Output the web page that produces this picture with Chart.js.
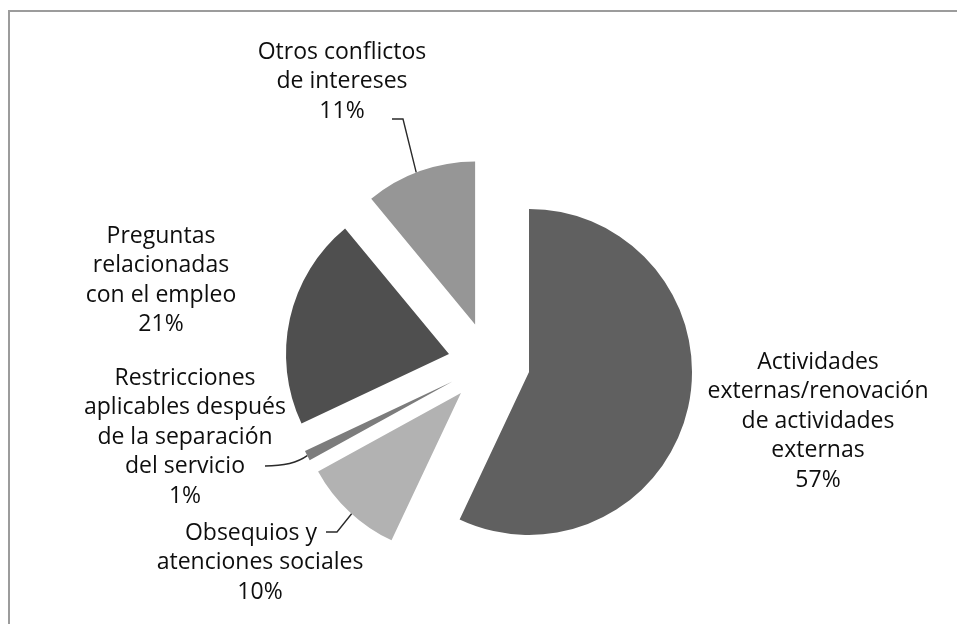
<!DOCTYPE html>
<html lang="es">
<head>
    <meta charset="UTF-8">
    <title>Consultas por categoría</title>
    <style>
        body {
            margin: 0;
            background-color: #fff;
        }

        #chart-wrap {
            position: relative;
            width: 957px;
            height: 624px;
            overflow: hidden;
        }

        /* marco gris: solo lados superior e izquierdo quedan a la vista */
        #marco {
            position: absolute;
            left: 8px;
            top: 10px;
            width: 960px;
            height: 630px;
            border-left: 2px solid #9c9c9c;
            border-top: 2px solid #9c9c9c;
        }

        canvas {
            position: absolute;
            left: 0;
            top: 0;
        }
    </style>
</head>
<body>
    <div id="chart-wrap">
        <div id="marco"></div>
        <canvas id="grafico" width="957" height="624"></canvas>
    </div>

    <script src="https://cdn.jsdelivr.net/npm/chart.js"></script>

    <script>
        // Datos: porcentaje de consultas por categoría
        const categorias = [
            'Actividades externas/renovación de actividades externas',
            'Obsequios y atenciones sociales',
            'Restricciones aplicables después de la separación del servicio',
            'Preguntas relacionadas con el empleo',
            'Otros conflictos de intereses'
        ];
        const porcentajes = [57, 10, 1, 21, 11];
        const lineasEtiqueta = [
            ['Actividades', 'externas/renovación', 'de actividades', 'externas'],
            ['Obsequios y', 'atenciones sociales'],
            ['Restricciones', 'aplicables después', 'de la separación', 'del servicio'],
            ['Preguntas', 'relacionadas', 'con el empleo'],
            ['Otros conflictos', 'de intereses']
        ];

        // Estilo
        const colores = ['#606060', '#b2b2b2', '#7c7c7c', '#4f4f4f', '#969696'];
        const DESPLAZAMIENTO = 41;   // separación de cada porción respecto al centro
        const ALTO_LINEA = 29.5;
        const FUENTE = '23px "Open Sans", sans-serif';

        // posición (centro x, y de la primera línea) de cada etiqueta;
        // dx0 corre solo la primera línea para dejar sitio a la guía
        const posEtiqueta = [
            { x: 818, y: 362 },
            { x: 260, y: 533, dx0: -9 },
            { x: 185, y: 378 },
            { x: 161, y: 236 },
            { x: 342, y: 52 }
        ];

        // líneas guía: puntos junto al texto y fracción del arco donde terminan
        const guias = [
            null,
            { puntos: [[326, 532], [337, 532]], frac: 0.47 },
            { puntos: [[265, 466]], ctrl: [293, 466], frac: 0.5 },
            null,
            { puntos: [[392, 119], [403, 119]], frac: 0.465 }
        ];

        function centroDesplazado(arc) {
            const mid = (arc.startAngle + arc.endAngle) / 2;
            return {
                x: arc.x + Math.cos(mid) * DESPLAZAMIENTO,
                y: arc.y + Math.sin(mid) * DESPLAZAMIENTO
            };
        }

        function puntoBorde(arc, frac) {
            const c = centroDesplazado(arc);
            const a = arc.startAngle + (arc.endAngle - arc.startAngle) * frac;
            return {
                x: c.x + Math.cos(a) * arc.outerRadius,
                y: c.y + Math.sin(a) * arc.outerRadius
            };
        }

        // dibuja cada porción separada del centro la misma distancia
        const separarPorciones = {
            id: 'separarPorciones',
            beforeDatasetDraw(chart, args) {
                const ctx = chart.ctx;
                args.meta.data.forEach(arc => {
                    const mid = (arc.startAngle + arc.endAngle) / 2;
                    ctx.save();
                    ctx.translate(Math.cos(mid) * DESPLAZAMIENTO, Math.sin(mid) * DESPLAZAMIENTO);
                    arc.draw(ctx);
                    ctx.restore();
                });
                return false;
            }
        };

        const etiquetas = {
            id: 'etiquetas',
            afterDraw(chart) {
                const ctx = chart.ctx;
                const arcs = chart.getDatasetMeta(0).data;
                ctx.save();

                // líneas guía
                ctx.strokeStyle = '#2a2a2a';
                ctx.lineWidth = 1.4;
                guias.forEach((g, i) => {
                    if (!g) return;
                    const fin = puntoBorde(arcs[i], g.frac);
                    ctx.beginPath();
                    ctx.moveTo(g.puntos[0][0], g.puntos[0][1]);
                    for (let k = 1; k < g.puntos.length; k++) {
                        ctx.lineTo(g.puntos[k][0], g.puntos[k][1]);
                    }
                    if (g.ctrl) {
                        ctx.quadraticCurveTo(g.ctrl[0], g.ctrl[1], fin.x, fin.y);
                    } else {
                        ctx.lineTo(fin.x, fin.y);
                    }
                    ctx.stroke();
                });

                // texto
                ctx.fillStyle = '#0e0e0e';
                ctx.font = FUENTE;
                ctx.textAlign = 'center';
                ctx.textBaseline = 'middle';
                lineasEtiqueta.forEach((lineas, i) => {
                    const p = posEtiqueta[i];
                    const todas = lineas.concat([porcentajes[i] + '%']);
                    todas.forEach((txt, k) => {
                        const dx = k === 0 ? (p.dx0 || 0) : 0;
                        ctx.fillText(txt, p.x + dx, p.y + k * ALTO_LINEA);
                    });
                });
                ctx.restore();
            }
        };

        new Chart(document.getElementById('grafico'), {
            type: 'pie',
            data: {
                labels: categorias,
                datasets: [{
                    data: porcentajes,
                    backgroundColor: colores,
                    borderWidth: 0
                }]
            },
            options: {
                responsive: false,
                animation: false,
                events: [],
                radius: 163,
                layout: {
                    padding: { left: 21, right: 0, top: 102, bottom: 0 }
                },
                plugins: {
                    legend: { display: false },
                    tooltip: { enabled: false }
                }
            },
            plugins: [separarPorciones, etiquetas]
        });
    </script>
</body>
</html>
